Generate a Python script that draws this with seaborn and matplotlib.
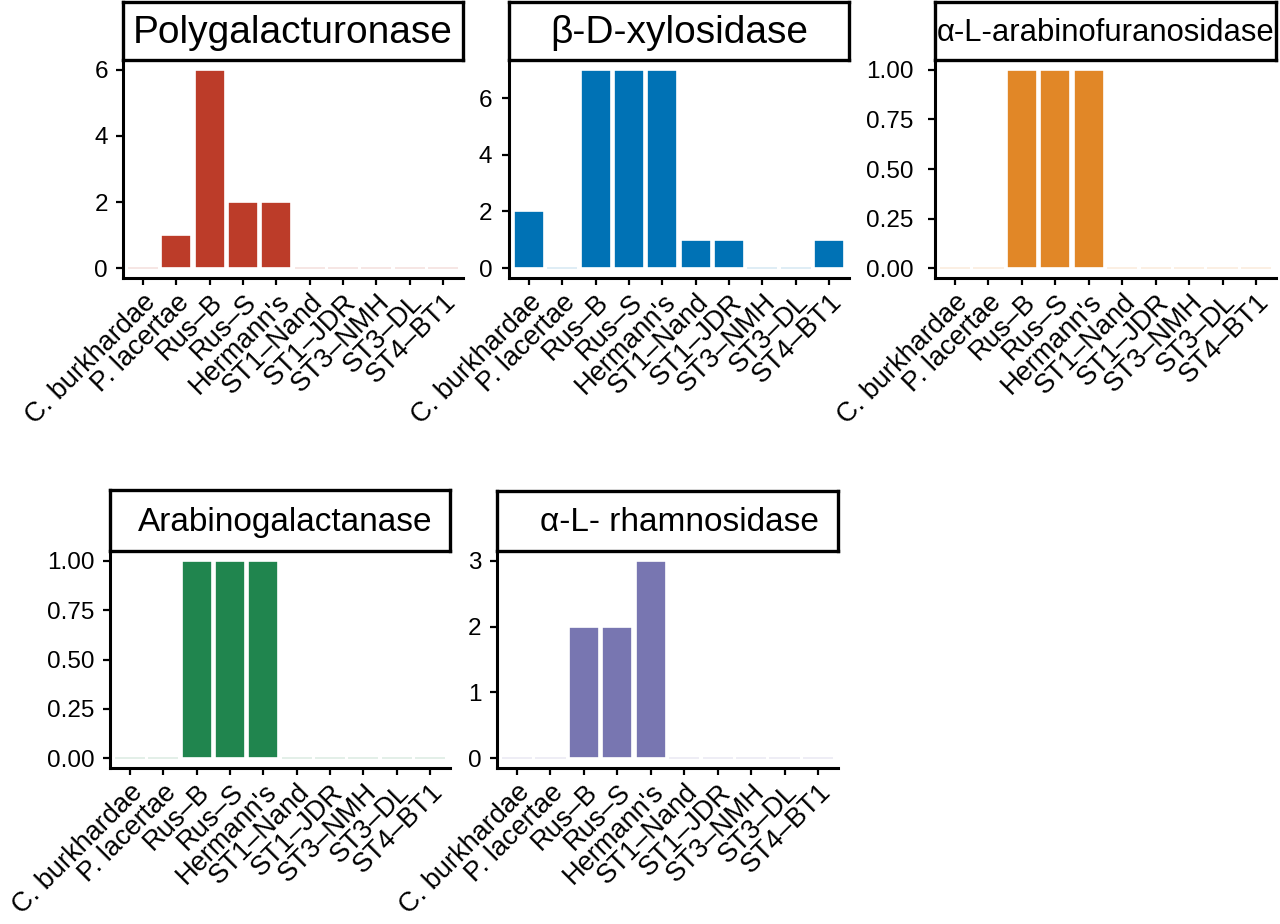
import matplotlib
matplotlib.use("Agg")
import matplotlib.pyplot as plt
import matplotlib.colors as mcolors
import seaborn as sns
import pandas as pd

# ---------------- data ----------------
strains = ["C. burkhardae", "P. lacertae", "Rus–B", "Rus–S", "Hermann's",
           "ST1–Nand", "ST1–JDR", "ST3–NMH", "ST3–DL", "ST4–BT1"]

enzymes = ["Polygalacturonase", "β-D-xylosidase", "α-L-arabinofuranosidase",
           "Arabinogalactanase", "α-L- rhamnosidase"]
polygalacturonase = [0, 1, 6, 2, 2, 0, 0, 0, 0, 0]
xylosidase = [2, 0, 7, 7, 7, 1, 1, 0, 0, 1]
arabinofuranosidase = [0, 0, 1, 1, 1, 0, 0, 0, 0, 0]
arabinogalactanase = [0, 0, 1, 1, 1, 0, 0, 0, 0, 0]
rhamnosidase = [0, 0, 2, 2, 3, 0, 0, 0, 0, 0]
colors = ["#BC3C29", "#0072B5", "#E18727", "#20854E", "#7876B1"]
yticks = [[0, 2, 4, 6], [0, 2, 4, 6], [0, 0.25, 0.5, 0.75, 1.0],
          [0, 0.25, 0.5, 0.75, 1.0], [0, 1, 2, 3]]
ytick_labels = [["0", "2", "4", "6"], ["0", "2", "4", "6"],
                ["0.00", "0.25", "0.50", "0.75", "1.00"],
                ["0.00", "0.25", "0.50", "0.75", "1.00"],
                ["0", "1", "2", "3"]]
series = [polygalacturonase, xylosidase, arabinofuranosidase,
          arabinogalactanase, rhamnosidase]

# ---------------- style ----------------
sns.set_style("ticks")
plt.rcParams["font.family"] = ["Liberation Sans", "DejaVu Sans"]

W, H = 1280, 924
fig = plt.figure(figsize=(W / 100, H / 100), dpi=100)
fig.patch.set_facecolor("white")


def rect(x0, y0, x1, y1):
    return [x0 / W, 1 - y1 / H, (x1 - x0) / W, (y1 - y0) / H]


# pixel layout: plot area, title box, title x-position, title size, y pad
layout = [
    ((123, 60, 463, 278), (123, 2, 463, 60), 0.5, 28, 5.8),
    ((509, 60, 849, 278), (509, 2, 849, 60), 0.5, 28, 7.0),
    ((935, 60, 1276, 278), (935, 2, 1276, 60), 0.5, 22.3, 10.5),
    ((110, 551, 450, 768), (110, 490, 450, 551), 0.515, 24, 6.0),
    ((497, 551, 838, 768), (497, 491, 838, 551), 0.534, 24, 6.0),
]

ytick_fs = 17.5
xtick_fs = 19.5

for i, (name, vals, col) in enumerate(zip(enzymes, series, colors)):
    prect, trect, tx, tfs, ypad = layout[i]
    ax = fig.add_axes(rect(*prect))
    df = pd.DataFrame({"strain": strains, "count": vals})
    sns.barplot(data=df, x="strain", y="count", order=strains, color=col,
                saturation=1, width=0.9, edgecolor="white", linewidth=1.2,
                ax=ax)
    for p in ax.patches:
        if p.get_height() == 0:
            p.set_edgecolor(mcolors.to_rgba(col, 0.15))
    vmax = max(vals)
    ax.set_ylim(-0.05 * vmax, 1.05 * vmax)
    ax.set_xlim(-0.6, len(strains) - 0.4)
    ax.set_yticks(yticks[i])
    ax.set_yticklabels(ytick_labels[i], fontsize=ytick_fs, color="black")
    ax.set_xticks(range(len(strains)))
    ax.set_xticklabels(strains, rotation=45, ha="right",
                       rotation_mode="anchor", fontsize=xtick_fs,
                       color="black")
    ax.set_xlabel("")
    ax.set_ylabel("")
    sns.despine(ax=ax)
    for s in ("left", "bottom"):
        ax.spines[s].set_linewidth(2.2)
        ax.spines[s].set_color("black")
    ax.tick_params(axis="both", length=5, width=1.6, color="black")
    ax.tick_params(axis="y", pad=ypad)
    ax.tick_params(axis="x", pad=3)
    ax.set_facecolor("white")

    tax = fig.add_axes(rect(*trect))
    tax.set_xticks([])
    tax.set_yticks([])
    tax.set_facecolor("white")
    for s in tax.spines.values():
        s.set_visible(True)
        s.set_linewidth(2.4)
        s.set_color("black")
    tax.text(tx, 0.47, name, ha="center", va="center", fontsize=tfs,
             color="black", transform=tax.transAxes)

fig.savefig("out.png", dpi=100, facecolor="white")
